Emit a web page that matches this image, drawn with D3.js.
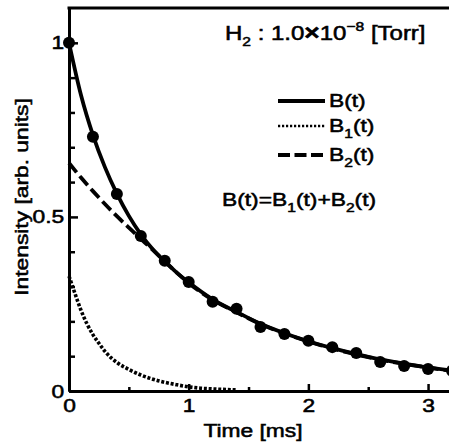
<!DOCTYPE html>
<html>
<head>
<meta charset="utf-8">
<script src="https://cdn.jsdelivr.net/npm/d3@7"></script>
<style>
  html, body { margin: 0; padding: 0; background: #fff; }
  svg { display: block; }
  text { font-family: "Liberation Sans", Arial, sans-serif; fill: #000; }
</style>
</head>
<body>
<svg id="chart" width="449" height="448"></svg>
<script>
// values
var pointTimes = [0, 0.2, 0.4, 0.6, 0.8, 1.0, 1.2, 1.4, 1.6, 1.8, 2.0, 2.2, 2.4, 2.6, 2.8, 3.0, 3.2];
var pointB = [1.0, 0.73, 0.566, 0.445, 0.374, 0.313, 0.256, 0.236, 0.184, 0.164, 0.144, 0.126, 0.109, 0.083, 0.072, 0.063, 0.058];

var curveTimes = [0, 0.1, 0.2, 0.3, 0.4, 0.5, 0.6, 0.7, 0.8, 0.9, 1.0, 1.2, 1.4, 1.6, 1.8, 2.0, 2.2, 2.4, 2.6, 2.8, 3.0, 3.2];
var curveB = [1.0, 0.85, 0.735, 0.643, 0.567, 0.503, 0.450, 0.407, 0.372, 0.340, 0.312, 0.263, 0.227, 0.193, 0.166, 0.143, 0.123, 0.106, 0.091, 0.079, 0.068, 0.059];
var curveB2 = [0.655, 0.613, 0.574, 0.537, 0.502, 0.469, 0.437, 0.405, 0.372, 0.340, 0.310, 0.262, 0.226, 0.192, 0.165, 0.142, 0.122, 0.105, 0.090, 0.078, 0.067, 0.058];

var fastTimes = [0, 0.05, 0.1, 0.15, 0.2, 0.25, 0.3, 0.35, 0.4, 0.5, 0.6, 0.7, 0.8, 0.9, 1.0, 1.1, 1.2, 1.4];
var curveB1 = [0.33, 0.28, 0.232, 0.193, 0.162, 0.137, 0.114, 0.096, 0.082, 0.062, 0.046, 0.034, 0.025, 0.018, 0.012, 0.008, 0.006, 0.003];

var xMajorTicks = [0, 1, 2, 3];
var xMinorTicks = [0.5, 1.5, 2.5];
var yMajorTicks = [0, 0.5, 1];
var yMinorTicks = [0.1, 0.2, 0.3, 0.4, 0.6, 0.7, 0.8, 0.9];

var chart = {};
chart.x = d3.scaleLinear().domain([0, 3.175]).range([69, 449]);
chart.y = d3.scaleLinear().domain([0, 1.1]).range([391, 8]);
chart.stretch = "scale(1.2,1)";
chart.ink = 0.55;   // faux-bold outline on the text

chart.init = function() {
    this.svg = d3.select("#chart");
    this.drawAxes();
    this.drawCurves();
    this.drawTexts();
};

chart.drawAxes = function() {
    var x = this.x, y = this.y, svg = this.svg;

    // minor ticks first, no labels
    svg.append("g")
        .attr("transform", "translate(0,391)")
        .call(d3.axisBottom(x).tickValues(xMinorTicks).tickSize(-4).tickSizeOuter(0).tickFormat(""));
    svg.append("g")
        .attr("transform", "translate(69,0)")
        .call(d3.axisLeft(y).tickValues(yMinorTicks).tickSize(-6).tickSizeOuter(0).tickFormat(""));

    svg.append("g")
        .attr("class", "xAxis")
        .attr("transform", "translate(0,391)")
        .call(d3.axisBottom(x).tickValues(xMajorTicks).tickSize(-7).tickSizeOuter(0).tickPadding(8)
            .tickFormat(d3.format("d")));
    svg.append("g")
        .attr("class", "yAxis")
        .attr("transform", "translate(69,0)")
        .call(d3.axisLeft(y).tickValues(yMajorTicks).tickSize(-9).tickSizeOuter(0).tickPadding(4)
            .tickFormat(function(d) { return d === 0.5 ? "0.5" : d3.format("d")(d); }));

    svg.selectAll(".domain").attr("stroke", "#000").attr("stroke-width", 3);
    svg.selectAll(".tick line").attr("stroke", "#000").attr("stroke-width", 2.5);
    svg.selectAll(".tick text")
        .attr("font-size", 19)
        .attr("font-family", "Liberation Sans, Arial, sans-serif")
        .attr("fill", "#000")
        .attr("stroke", "#000")
        .attr("stroke-width", this.ink)
        .attr("transform", this.stretch);

    // top frame line
    svg.append("line")
        .attr("x1", x(0) - 1.5).attr("x2", 449)
        .attr("y1", y(1.1)).attr("y2", y(1.1))
        .attr("stroke", "#000").attr("stroke-width", 3);
};

chart.drawCurves = function() {
    var x = this.x, y = this.y, svg = this.svg;
    var line = d3.line().curve(d3.curveMonotoneX);

    var pts = function(ts, vs) { return ts.map(function(t, i) { return [x(t), y(vs[i])]; }); };

    svg.append("path")
        .attr("d", line(pts(fastTimes, curveB1)))
        .attr("fill", "none").attr("stroke", "#000")
        .attr("stroke-width", 3.6).attr("stroke-dasharray", "3 1.8");

    svg.append("path")
        .attr("d", line(pts(curveTimes, curveB2)))
        .attr("fill", "none").attr("stroke", "#000")
        .attr("stroke-width", 3.8).attr("stroke-dasharray", "12 5");

    svg.append("path")
        .attr("d", line(pts(curveTimes, curveB)))
        .attr("fill", "none").attr("stroke", "#000")
        .attr("stroke-width", 3.8);

    svg.append("g")
        .selectAll("circle")
        .data(pointTimes)
        .enter()
        .append("circle")
        .attr("cx", function(d) { return x(d); })
        .attr("cy", function(d, i) { return y(pointB[i]); })
        .attr("r", 6)
        .attr("fill", "#000");
};

// put a stretched text with optional sub/superscript pieces
chart.addText = function(px, py, parts, anchor, rotate, size) {
    var t = this.svg.append("text")
        .attr("transform", `translate(${px},${py})` + (rotate ? " rotate(-90)" : "") + " " + this.stretch)
        .attr("text-anchor", anchor || "start")
        .attr("font-size", size || 19)
        .attr("stroke", "#000")
        .attr("stroke-width", this.ink);
    var shift = 0;
    parts.forEach(function(p) {
        var s = t.append("tspan").text(p.t);
        var target = p.sub ? 6 : (p.sup ? -9 : 0);
        s.attr("dy", target - shift);
        shift = target;
        if (p.sub || p.sup) s.attr("font-size", 13);
        if (p.size) s.attr("font-size", p.size);
        if (p.bold) s.attr("font-weight", "bold");
    });
    return t;
};

chart.drawTexts = function() {
    var svg = this.svg;

    this.addText(253, 437, [{t: "Time [ms]"}], "middle");
    this.addText(28, 197, [{t: "Intensity [arb. units]"}], "middle", true);

    this.addText(225, 40, [
        {t: "H"}, {t: "2", sub: true}, {t: " : 1.0"}, {t: "×", bold: true, size: 22},
        {t: "10"}, {t: "−8", sup: true}, {t: " [Torr]"}
    ], "start", false, 20);

    // legend
    var legend = [
        {y: 101, dash: null, w: 4, parts: [{t: "B(t)"}]},
        {y: 126, dash: "2.2 1.8", w: 2.6, parts: [{t: "B"}, {t: "1", sub: true}, {t: "(t)"}]},
        {y: 155, dash: "12 4.5", w: 4, parts: [{t: "B"}, {t: "2", sub: true}, {t: "(t)"}]}
    ];
    legend.forEach((d) => {
        svg.append("line")
            .attr("x1", 278).attr("x2", 325)
            .attr("y1", d.y).attr("y2", d.y)
            .attr("stroke", "#000").attr("stroke-width", d.w)
            .attr("stroke-dasharray", d.dash);
        this.addText(329, d.y + 6, d.parts);
    });

    this.addText(222, 206, [
        {t: "B(t)=B"}, {t: "1", sub: true}, {t: "(t)+B"}, {t: "2", sub: true}, {t: "(t)"}
    ]);
};

chart.init();
</script>
</body>
</html>
